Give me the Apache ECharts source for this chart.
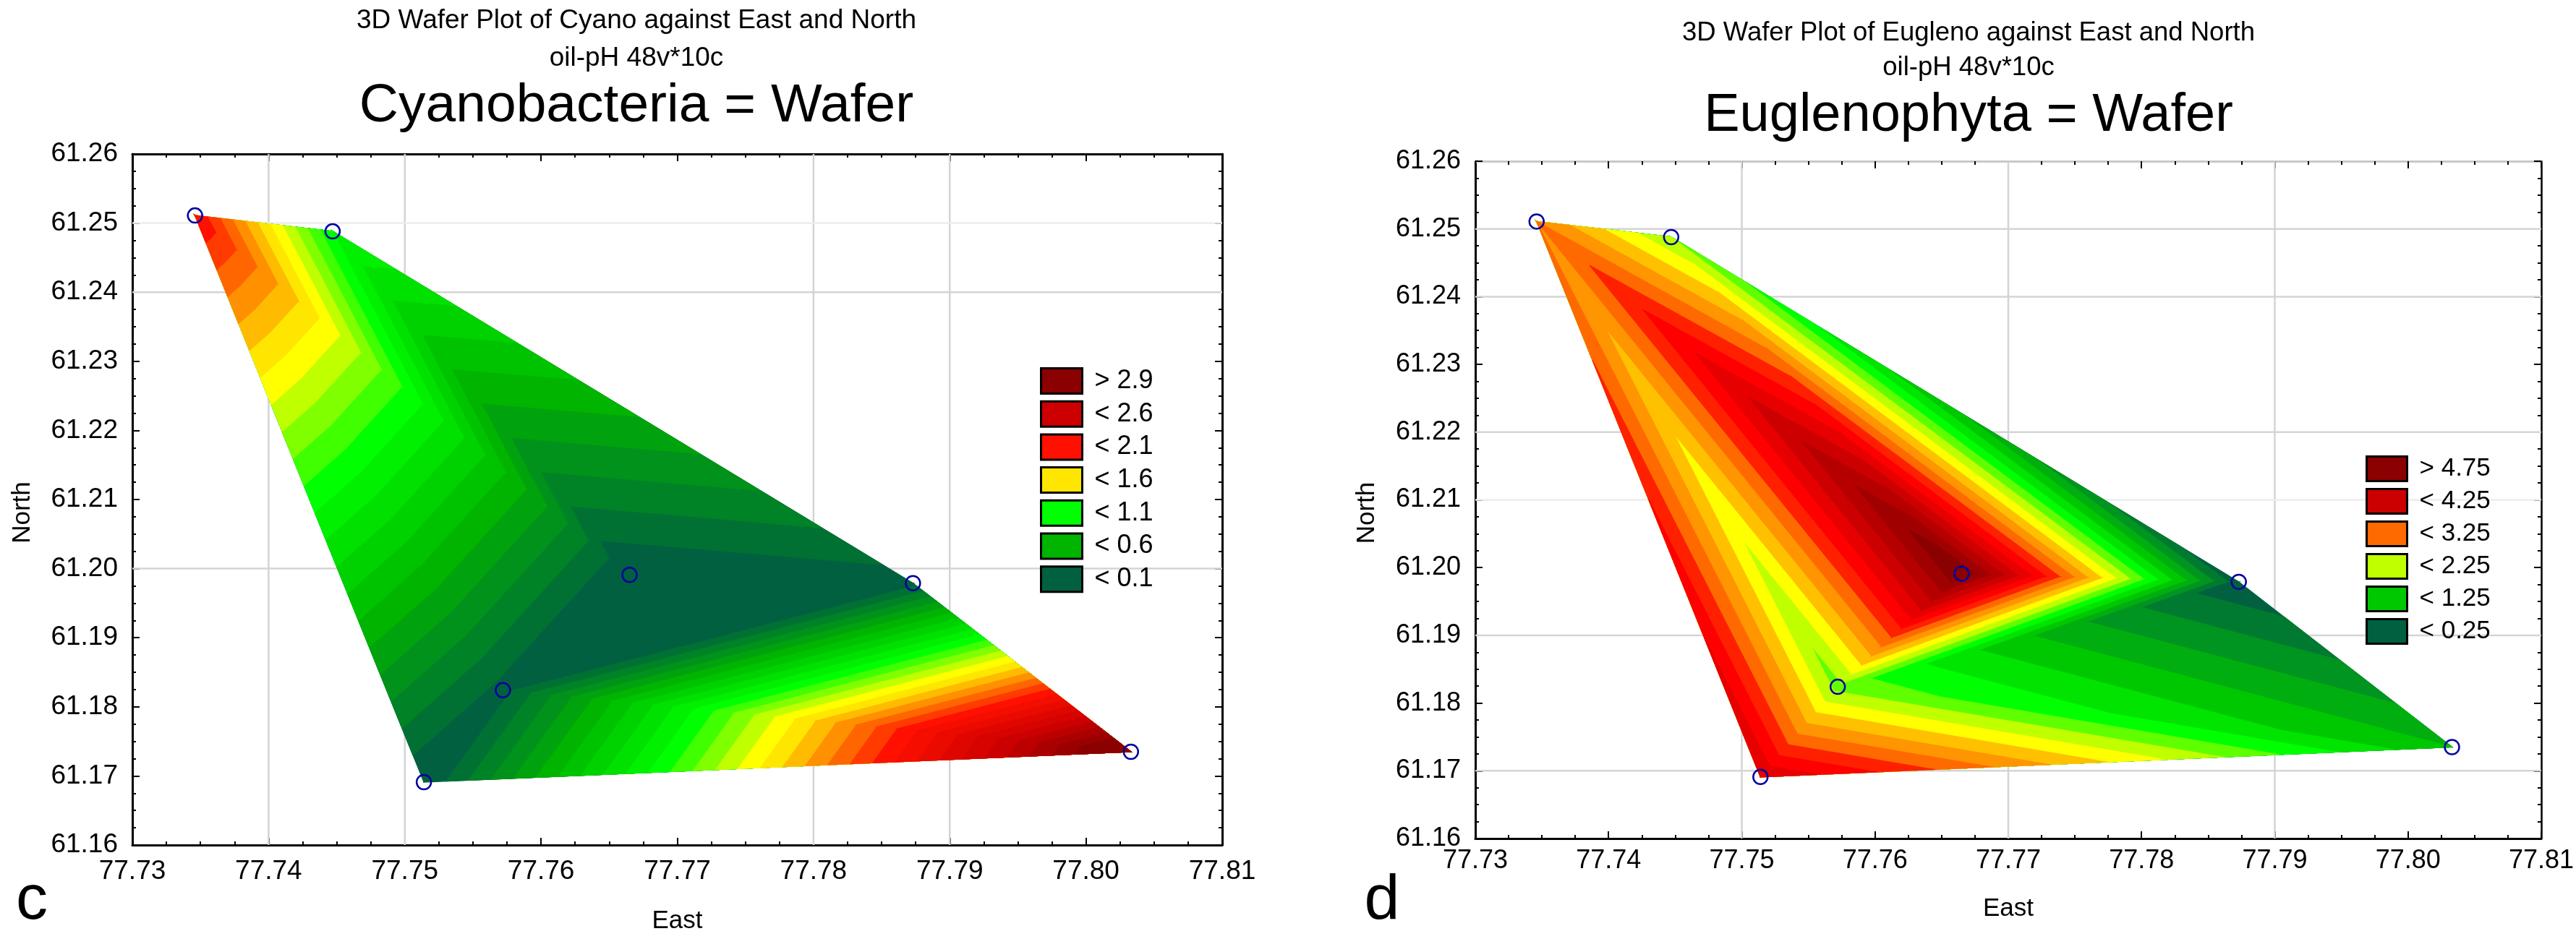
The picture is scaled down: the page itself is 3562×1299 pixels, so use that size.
<!DOCTYPE html>
<html>
<head>
<meta charset="utf-8">
<style>html,body{margin:0;padding:0;background:#fff}#chart{width:3562px;height:1299px}</style>
<script src="https://cdn.jsdelivr.net/npm/echarts@6/dist/echarts.min.js"></script>
</head>
<body>
<div id="chart"></div>
<script>
// sampling sites, read from the blue circles
const eastSites  = [77.7346, 77.7447, 77.7514, 77.7665, 77.7572, 77.7873, 77.8033];
const northSites = [61.2511, 61.2488, 61.1691, 61.1991, 61.1824, 61.1979, 61.1735];
// surface value at each site
const cyanoValues   = [2.1, 1.0, 0.0, 0.0, 0.06, 0.05, 3.15];
const eugelnoValues = [3.0, 2.0, 4.0, 5.0, 1.9, 0.05, 1.0];
// mesh the wafer surface is built on (indices into the sites)
const meshTriangles = [[0,1,3],[0,3,4],[0,4,2],[2,4,6],[3,4,5],[4,5,6],[1,3,5]];

// legends
const cyanoLegendNames  = ['> 2.9','< 2.6','< 2.1','< 1.6','< 1.1','< 0.6','< 0.1'];
const cyanoLegendColors = ['#8b0000','#cc0000','#ff1000','#ffe600','#00ff00','#00b400','#006040'];
const eugLegendNames    = ['> 4.75','< 4.25','< 3.25','< 2.25','< 1.25','< 0.25'];
const eugLegendColors   = ['#8b0000','#cc0000','#ff6a00','#bfff00','#00c800','#006040'];

// colour ramps
const cyanoStopValues = [0.1,0.6,1.1,1.5,1.6,2.1,2.6,3.0];
const cyanoStopColors = ['#006040','#00b400','#00ff00','#ffff00','#ffe600','#ff1000','#cc0000','#8b0000'];
const eugStopValues   = [0.25,1.25,1.75,2.25,2.5,2.75,3.25,3.5,3.75,4.25,5.0];
const eugStopColors   = ['#006040','#00c800','#00ff00','#c0ff00','#ffff00','#ffc000','#ff6a00','#ff2000','#ff0000','#cc0000','#8b0000'];
const cyanoBand = {from:0.1, to:2.9, step:0.1};
const eugBand   = {from:0.25, to:4.75, step:0.25};

// gridlines that are visible in each panel
const cyanoGridEast  = [77.74,77.75,77.78,77.79];
const cyanoGridNorth = [61.24,61.20];
const cyanoFaintNorth= [61.25];
const eugGridEast    = [77.75,77.77,77.79];
const eugGridNorth   = [61.25,61.24,61.22,61.19,61.17];
const eugFaintNorth  = [61.21];

const FONT = '"Liberation Sans", Arial, sans-serif';
const EAST = {min:77.73,max:77.81}, NORTH = {min:61.16,max:61.26};

function hex(c){return [1,3,5].map(i=>parseInt(c.substr(i,2),16));}
function ramp(values,colors,v){
  if(v<=values[0])return colors[0];
  for(let i=1;i<values.length;i++){
    if(v<=values[i]+1e-9){
      const t=(v-values[i-1])/(values[i]-values[i-1]),a=hex(colors[i-1]),b=hex(colors[i]);
      return 'rgb('+a.map((x,k)=>Math.round(x+(b[k]-x)*t)).join(',')+')';
    }
  }
  return colors[colors.length-1];
}
// part of a triangle at or above a level, in data space
function clipAbove(poly,level){
  const out=[];
  for(let i=0;i<poly.length;i++){
    const a=poly[i],b=poly[(i+1)%poly.length];
    const ia=a[2]>=level,ib=b[2]>=level;
    if(ia)out.push(a);
    if(ia!==ib){
      const t=(level-a[2])/(b[2]-a[2]);
      out.push([a[0]+(b[0]-a[0])*t,a[1]+(b[1]-a[1])*t,level]);
    }
  }
  return out;
}
function buildBands(values,band,stopV,stopC){
  const polys=[];
  const n=Math.round((band.to-band.from)/band.step);
  for(let k=-1;k<=n;k++){
    const level=k<0?-Infinity:band.from+k*band.step;
    const upper=k<n?band.from+(k+1)*band.step:stopV[stopV.length-1];
    const color=k<0?stopC[0]:ramp(stopV,stopC,upper);
    meshTriangles.forEach(tri=>{
      const base=tri.map(i=>[eastSites[i],northSites[i],values[i]]);
      const p=k<0?base:clipAbove(base,level);
      if(p.length>=3)polys.push({p,color});
    });
  }
  return polys;
}

const panels=[
 {left:183,right:1690,top:213,bottom:1169,values:cyanoValues,band:cyanoBand,sv:cyanoStopValues,sc:cyanoStopColors,
  gridE:cyanoGridEast,gridN:cyanoGridNorth,faintN:cyanoFaintNorth,names:cyanoLegendNames,colors:cyanoLegendColors,
  legendLeft:1438,legendTop:508,itemH:35,itemW:57,gap:7.7,labelSize:37,legendSize:36,topColor:'#000',topW:3,rightW:3,
  nameGapX:88,nameGapY:134,labelMargin:18,
  titles:[['3D Wafer Plot of Cyano against East and North',875,5,37],['oil-pH 48v*10c',875,57,37],['Cyanobacteria = Wafer',875,105,75]],
  letter:['c',39,1198]},
 {left:2040,right:3517,top:223,bottom:1160,values:eugelnoValues,band:eugBand,sv:eugStopValues,sc:eugStopColors,
  gridE:eugGridEast,gridN:eugGridNorth,faintN:eugFaintNorth,names:eugLegendNames,colors:eugLegendColors,
  legendLeft:3271,legendTop:630,itemH:34,itemW:56,gap:8,labelSize:36,legendSize:35,topColor:'#c8c8c8',topW:3,rightW:2.5,
  nameGapX:80,nameGapY:132,labelMargin:13,
  titles:[['3D Wafer Plot of Eugleno against East and North',2717,22,36.5],['oil-pH 48v*10c',2717,70,36.5],['Euglenophyta = Wafer',2717,119,74]],
  letter:['d',1906,1198]}
];

const option={animation:false,backgroundColor:'#fff',textStyle:{fontFamily:FONT},
  title:[],grid:[],xAxis:[],yAxis:[],legend:[],series:[]};

function axisCommon(extent,lineColor,lineW){
  return Object.assign({type:'value',interval:0.01,scale:true,splitLine:{show:false},
    axisLine:{show:true,onZero:false,lineStyle:{color:lineColor,width:lineW}},
    axisTick:{show:true,inside:true,length:10,lineStyle:{color:'#000',width:2}},
    minorTick:{show:true,splitNumber:4,length:5,lineStyle:{color:'#000',width:2}},
    minorSplitLine:{show:false}},extent);
}

panels.forEach((P,idx)=>{
  P.titles.forEach(t=>option.title.push({text:t[0],left:t[1],top:t[2],textAlign:'center',
    textStyle:{fontFamily:FONT,fontWeight:'normal',color:'#000',fontSize:t[3]}}));
  option.title.push({text:P.letter[0],left:P.letter[1],top:P.letter[2],textAlign:'center',
    textStyle:{fontFamily:FONT,fontWeight:'normal',color:'#000',fontSize:88}});

  option.grid.push({left:P.left,top:P.top,width:P.right-P.left,height:P.bottom-P.top,containLabel:false,show:false});

  const fmt=v=>v.toFixed(2);
  const xa=idx*2, ya=idx*2;
  option.xAxis.push(Object.assign(axisCommon(EAST,'#000',3),{gridIndex:idx,position:'bottom',name:'East',nameLocation:'middle',nameGap:P.nameGapX,
    nameTextStyle:{fontFamily:FONT,fontSize:35,color:'#000'},
    axisLabel:{show:true,formatter:fmt,fontFamily:FONT,fontSize:P.labelSize,color:'#000',margin:P.labelMargin,showMinLabel:true,showMaxLabel:true,hideOverlap:false}}));
  option.xAxis.push(Object.assign(axisCommon(EAST,P.topColor,P.topW),{gridIndex:idx,position:'top',axisLabel:{show:false}}));
  option.yAxis.push(Object.assign(axisCommon(NORTH,'#000',3),{gridIndex:idx,position:'left',name:'North',nameLocation:'middle',nameGap:P.nameGapY,nameRotate:90,
    nameTextStyle:{fontFamily:FONT,fontSize:35,color:'#000',padding:[0,36,0,0]},
    axisLabel:{show:true,formatter:fmt,fontFamily:FONT,fontSize:P.labelSize,color:'#000',margin:20,showMinLabel:true,showMaxLabel:true,hideOverlap:false}}));
  option.yAxis.push(Object.assign(axisCommon(NORTH,'#000',P.rightW),{gridIndex:idx,position:'right',axisLabel:{show:false}}));

  const refs={xAxisIndex:xa,yAxisIndex:ya};
  // gridlines
  const gl=(pts,color)=>option.series.push(Object.assign({type:'line',silent:true,symbol:'none',z:1,data:pts,lineStyle:{color,width:2.5},legendHoverLink:false},refs));
  P.gridE.forEach(e=>gl([[e,NORTH.min],[e,NORTH.max]],'#d4d4d4'));
  P.gridN.forEach(n=>gl([[EAST.min,n],[EAST.max,n]],'#d4d4d4'));
  P.faintN.forEach(n=>gl([[EAST.min,n],[EAST.max,n]],'#ececec'));

  // contour bands through the axes' own scales
  const polys=buildBands(P.values,P.band,P.sv,P.sc);
  option.series.push(Object.assign({type:'custom',silent:true,z:2,coordinateSystem:'cartesian2d',
    data:polys.map((q,i)=>[q.p[0][0],q.p[0][1],i]),
    encode:{x:0,y:1},clip:false,
    renderItem:(params,api)=>{
      const q=polys[api.value(2)];
      return {type:'polygon',shape:{points:q.p.map(v=>api.coord([v[0],v[1]]))},
        style:{fill:q.color,stroke:q.color,lineWidth:1.2}};
    }},refs));

  // sites
  option.series.push(Object.assign({type:'scatter',silent:true,z:4,symbol:'circle',symbolSize:20,
    data:eastSites.map((e,i)=>[e,northSites[i]]),
    itemStyle:{color:'rgba(0,0,0,0)',borderColor:'#0000a0',borderWidth:2.5,opacity:1}},refs));

  // legend
  P.names.forEach((name,i)=>option.series.push(Object.assign({type:'scatter',name,data:[],itemStyle:{color:P.colors[i],opacity:1}},refs)));
  option.legend.push({orient:'vertical',left:P.legendLeft,top:P.legendTop,padding:0,itemWidth:P.itemW,itemHeight:P.itemH,itemGap:P.gap,
    selectedMode:false,icon:'rect',
    data:P.names.map((name,i)=>({name,icon:'rect',itemStyle:{color:P.colors[i],borderColor:'#000',borderWidth:3,opacity:1}})),
    textStyle:{fontFamily:FONT,fontSize:P.legendSize,color:'#000',padding:[0,0,0,12]}});
});

echarts.init(document.getElementById('chart'),null,{renderer:'canvas'}).setOption(option);
</script>
</body>
</html>
